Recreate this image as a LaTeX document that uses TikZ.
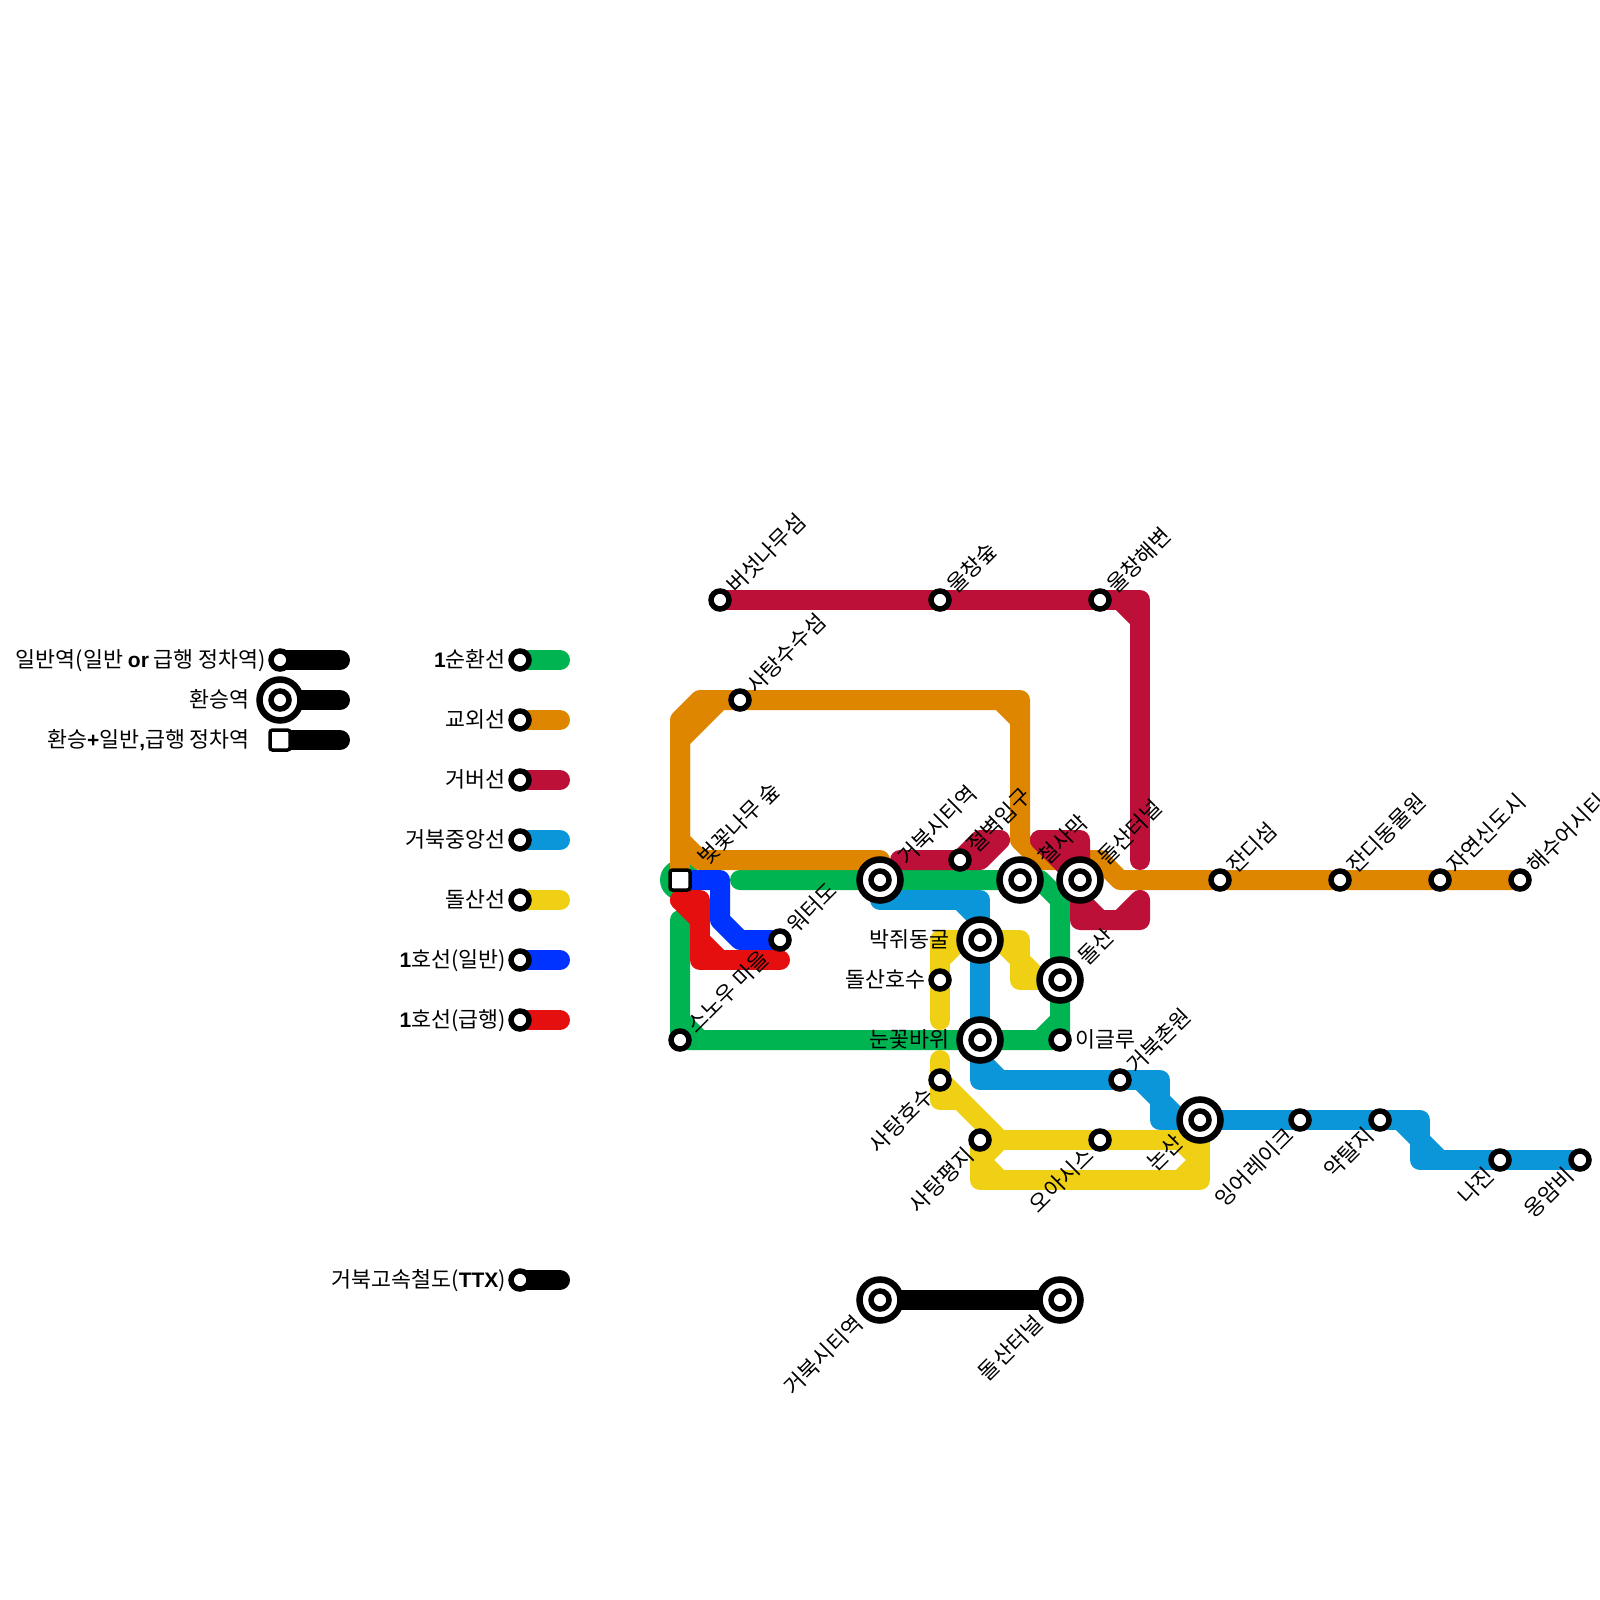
\documentclass[tikz,border=0pt]{standalone}
\usepackage{fontspec}
\setmainfont{Noto Sans CJK KR}
\newfontfamily\latfont{Liberation Sans}[BoldFont={Liberation Sans Bold}]
\newcommand{\lat}[1]{{\latfont\bfseries\fontsize{21}{24}\selectfont #1}}
\usetikzlibrary{backgrounds}
\definecolor{cgreen}{HTML}{00B451}
\definecolor{corange}{HTML}{DF8600}
\definecolor{ccrim}{HTML}{BC1038}
\definecolor{cteal}{HTML}{0A96D8}
\definecolor{cyell}{HTML}{F0D014}
\definecolor{cblue}{HTML}{0033FF}
\definecolor{cred}{HTML}{E60F10}
\tikzset{
  ln/.style={line width=20pt,line cap=round,line join=round},
  stnode/.style={circle,draw=black,fill=white,line width=5.5pt,minimum size=18pt,inner sep=0pt},
  hubnode/.style={circle,draw=black,fill=white,line width=6.5pt,minimum size=41pt,inner sep=0pt},
  boxnode/.style={rectangle,draw=black,fill=white,line width=3.5pt,minimum size=20pt,inner sep=0pt,rounded corners=2.5pt},
  txt/.style={font=\fontsize{21.7}{26}\selectfont,inner sep=0pt,text height=19pt,text depth=3.5pt,text=black},
  lbl/.style={txt,anchor=west,rotate=45},
  lbr/.style={txt,anchor=east,rotate=45},
  lft/.style={txt,anchor=east},
  rgt/.style={txt,anchor=west}
}
\newcommand{\hubat}[2]{\node[hubnode] (#1) at (#2) {}; \node[stnode] (#1i) at (#1) {};}
\begin{document}
\begin{tikzpicture}[x=1pt,y=-1pt]
\useasboundingbox (0,0) rectangle (1600,1600);
% stations
\node[stnode] (beoseot) at (720,600) {};
\node[stnode] (ulsup) at (940,600) {};
\node[stnode] (ulhae) at (1100,600) {};
\node[stnode] (satangss) at (740,700) {};
\node[boxnode] (beot) at (680,880) {};
\hubat{geobuk}{880,880}
\node[stnode] (jeol) at (960,860) {};
\hubat{cheol}{1020,880}
\hubat{dolt}{1080,880}
\node[stnode] (jan) at (1220,880) {};
\node[stnode] (jandong) at (1340,880) {};
\node[stnode] (jayeon) at (1440,880) {};
\node[stnode] (haesu) at (1520,880) {};
\node[stnode] (woter) at (780,940) {};
\hubat{bak}{980,940}
\node[stnode] (dolho) at (940,980) {};
\hubat{dol}{1060,980}
\hubat{nun}{980,1040}
\node[stnode] (igl) at (1060,1040) {};
\node[stnode] (sno) at (680,1040) {};
\node[stnode] (chon) at (1120,1080) {};
\node[stnode] (saho) at (940,1080) {};
\node[stnode] (sapy) at (980,1140) {};
\node[stnode] (oa) at (1100,1140) {};
\hubat{non}{1200,1120}
\node[stnode] (ing) at (1300,1120) {};
\node[stnode] (yak) at (1380,1120) {};
\node[stnode] (naj) at (1500,1160) {};
\node[stnode] (ong) at (1580,1160) {};
\hubat{tgeo}{880,1300}
\hubat{tdol}{1060,1300}
% legends
\node[stnode] (ga) at (280,660) {};
\hubat{gb}{280,700}
\node[boxnode] (gc) at (280,740) {};
\node[stnode] (l1) at (520,660) {};
\node[stnode] (l2) at (520,720) {};
\node[stnode] (l3) at (520,780) {};
\node[stnode] (l4) at (520,840) {};
\node[stnode] (l5) at (520,900) {};
\node[stnode] (l6) at (520,960) {};
\node[stnode] (l7) at (520,1020) {};
\node[stnode] (l8) at (520,1280) {};
\begin{scope}[on background layer]
  % legend bars
  \draw[ln,black] (ga.center) -- (340,660);
  \draw[ln,black] (gb.center) -- (340,700);
  \draw[ln,black] (gc.center) -- (340,740);
  \draw[ln,cgreen] (l1.center) -- (560,660);
  \draw[ln,corange] (l2.center) -- (560,720);
  \draw[ln,ccrim] (l3.center) -- (560,780);
  \draw[ln,cteal] (l4.center) -- (560,840);
  \draw[ln,cyell] (l5.center) -- (560,900);
  \draw[ln,cblue] (l6.center) -- (560,960);
  \draw[ln,cred] (l7.center) -- (560,1020);
  \draw[ln,black] (l8.center) -- (560,1280);
  % TTX
  \draw[ln,black] (tgeo.center) -- (tdol.center);
  % green
  \fill[cgreen] (beot.center) circle (20);
  \draw[ln,cgreen] (740,880) -- (geobuk.center) -- (cheol.center) -- (1040,880) -- (1060,900) -- (dol.center) -- (igl.center) -- (nun.center) -- (sno.center) -- (680,920);
  \draw[ln,cgreen] (1040,1040) -- (1060,1020);
  \draw[ln,cgreen] (680,1020) -- (700,1040);
  % orange
  \draw[ln,corange] (880,860) -- (700,860) -- (680,840) -- (680,740) -- (720,700);
  \draw[ln,corange] (beot.center) -- (680,720) -- (700,700) -- (satangss.center) -- (1020,700) -- (1020,840) -- (1040,860) -- (1100,860) -- (1120,880) -- (jan.center) -- (jandong.center) -- (jayeon.center) -- (haesu.center);
  \draw[ln,corange] (1000,700) -- (1020,720);
  % crimson
  \draw[ln,ccrim] (beoseot.center) -- (ulsup.center) -- (ulhae.center) -- (1140,600) -- (1140,860);
  \draw[ln,ccrim] (1120,600) -- (1140,620);
  \draw[ln,ccrim] (900,860) -- (jeol.center) -- (980,860) -- (1000,840) -- (980,840) -- (jeol.center);
  \fill[ccrim] (1040,840) -- (1080,840) -- (1080,880) -- cycle;
  \draw[ln,ccrim] (1040,840) -- (1080,840) -- (dolt.center) -- (1080,920) -- (1140,920) -- (1140,900) -- (1120,920);
  \draw[ln,ccrim] (1040,840) -- (dolt.center);
  \draw[ln,ccrim] (1080,900) -- (1100,920);
  % teal
  \draw[ln,cteal] (880,900) -- (980,900) -- (bak.center) -- (nun.center) -- (980,1080) -- (chon.center) -- (1160,1080) -- (1160,1120) -- (non.center) -- (ing.center) -- (yak.center) -- (1420,1120) -- (1420,1160) -- (naj.center) -- (ong.center);
  \draw[ln,cteal] (960,900) -- (980,920);
  \draw[ln,cteal] (980,1060) -- (1000,1080);
  \draw[ln,cteal] (1140,1080) -- (1160,1100);
  \draw[ln,cteal] (1160,1100) -- (1180,1120);
  \draw[ln,cteal] (1400,1120) -- (1420,1140) -- (1440,1160);
  % yellow
  \draw[ln,cyell] (940,1020) -- (dolho.center) -- (940,940) -- (bak.center) -- (1020,940) -- (1020,980) -- (dol.center);
  \draw[ln,cyell] (940,960) -- (960,940);
  \draw[ln,cyell] (1000,940) -- (1020,960) -- (1040,980);
  \draw[ln,cyell] (940,1060) -- (saho.center) -- (940,1100) -- (960,1100);
  \draw[ln,cyell] (saho.center) -- (1000,1140);
  \draw[ln,cyell] (sapy.center) -- (oa.center) -- (1200,1140) -- (1200,1180) -- (980,1180) -- (sapy.center);
  \draw[ln,cyell] (1200,1140) -- (non.center);
  \draw[ln,cyell] (1180,1140) -- (1200,1160) -- (1180,1180);
  \draw[ln,cyell] (1000,1140) -- (980,1160) -- (1000,1180);
  % blue
  \draw[ln,cblue] (beot.center) -- (720,880) -- (720,920) -- (740,940) -- (woter.center);
  % red
  \draw[ln,cred] (680,900) -- (700,900) -- (700,960) -- (780,960);
  \draw[ln,cred] (680,900) -- (700,920);
  \draw[ln,cred] (700,940) -- (720,960);
\end{scope}
% labels up-right
\node[lbl] (tbeoseot) at ([shift={(11,-11)}]beoseot.center) {버섯나무섬};
\node[lbl] (tulsup) at ([shift={(11,-11)}]ulsup.center) {울창숲};
\node[lbl] (tulhae) at ([shift={(11,-11)}]ulhae.center) {울창해변};
\node[lbl] (tsatang) at ([shift={(11,-11)}]satangss.center) {사탕수수섬};
\node[lbl] (tbeot) at ([shift={(22,-19)}]beot.center) {벚꽃나무 숲};
\node[lbl] (tgeobuk) at ([shift={(22,-19)}]geobuk.center) {거북시티역};
\node[lbl] (tjeol) at ([shift={(11,-11)}]jeol.center) {절벽입구};
\node[lbl] (tcheol) at ([shift={(22,-19)}]cheol.center) {철사막};
\node[lbl] (tdolt) at ([shift={(22,-19)}]dolt.center) {돌산터널};
\node[lbl] (tjan) at ([shift={(11,-11)}]jan.center) {잔디섬};
\node[lbl] (tjandong) at ([shift={(11,-11)}]jandong.center) {잔디동물원};
\node[lbl] (tjayeon) at ([shift={(11,-11)}]jayeon.center) {자연신도시};
\node[lbl] (thaesu) at ([shift={(11,-11)}]haesu.center) {해수어시티};
\node[lbl] (twoter) at ([shift={(11,-11)}]woter.center) {워터도};
\node[lbl] (tdol2) at ([shift={(22,-19)}]dol.center) {돌산};
\node[lbl] (tsno) at ([shift={(11,-11)}]sno.center) {스노우 마을};
\node[lbl] (tchon) at ([shift={(11,-11)}]chon.center) {거북촌원};
% labels down-left
\node[lbr] (tsaho) at ([shift={(-10,12)}]saho.center) {사탕호수};
\node[lbr] (tsapy) at ([shift={(-10,12)}]sapy.center) {사탕평지};
\node[lbr] (toa) at ([shift={(-10,12)}]oa.center) {오아시스};
\node[lbr] (tnon) at ([shift={(-21,19)}]non.center) {논산};
\node[lbr] (ting) at ([shift={(-10,12)}]ing.center) {잉어레이크};
\node[lbr] (tyak) at ([shift={(-10,12)}]yak.center) {약탈지};
\node[lbr] (tnaj) at ([shift={(-10,12)}]naj.center) {나진};
\node[lbr] (tong) at ([shift={(-10,12)}]ong.center) {옹암비};
\node[lbr] (ttgeo) at ([shift={(-21,20)}]tgeo.center) {거북시티역};
\node[lbr] (ttdol) at ([shift={(-21,20)}]tdol.center) {돌산터널};
% labels horizontal
\node[lft] (tbak) at ([xshift=-30pt]bak.center) {박쥐동굴};
\node[lft] (tdolho) at ([xshift=-14pt]dolho.center) {돌산호수};
\node[lft] (tnun) at ([xshift=-30pt]nun.center) {눈꽃바위};
\node[rgt] (tigl) at ([xshift=15pt]igl.center) {이글루};
% legend labels
\node[lft] (tga) at ([xshift=-14pt]ga.center) {일반역(일반 \lat{or} 급행 정차역)};
\node[lft] (tgb) at ([xshift=-30pt]gb.center) {환승역};
\node[lft] (tgc) at ([xshift=-30pt]gc.center) {환승\lat{+}일반\lat{,}급행 정차역};
\node[lft] (tl1) at ([xshift=-14pt]l1.center) {\lat{1}순환선};
\node[lft] (tl2) at ([xshift=-14pt]l2.center) {교외선};
\node[lft] (tl3) at ([xshift=-14pt]l3.center) {거버선};
\node[lft] (tl4) at ([xshift=-14pt]l4.center) {거북중앙선};
\node[lft] (tl5) at ([xshift=-14pt]l5.center) {돌산선};
\node[lft] (tl6) at ([xshift=-14pt]l6.center) {\lat{1}호선(일반)};
\node[lft] (tl7) at ([xshift=-14pt]l7.center) {\lat{1}호선(급행)};
\node[lft] (tl8) at ([xshift=-14pt]l8.center) {거북고속철도(\lat{TTX})};
\end{tikzpicture}
\end{document}
